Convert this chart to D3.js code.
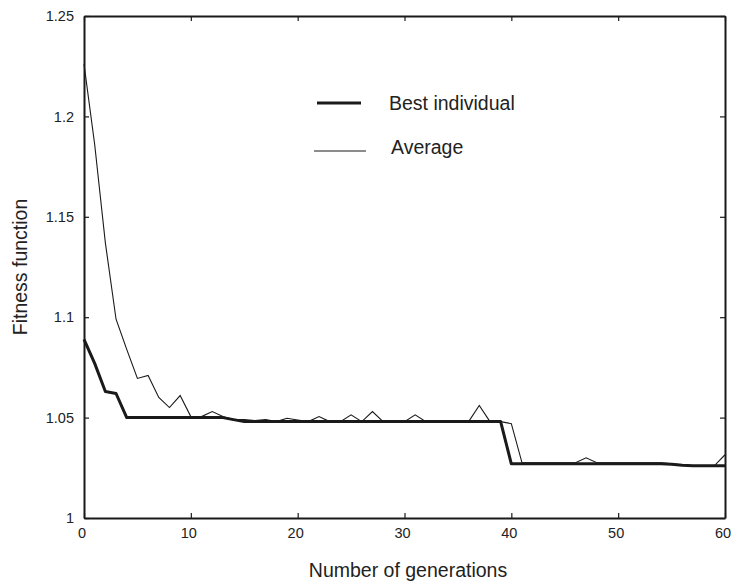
<!DOCTYPE html>
<html>
<head>
<meta charset="utf-8">
<script src="https://cdn.jsdelivr.net/npm/d3@7"></script>
<style>
  html, body { margin: 0; padding: 0; background: #fff; }
  svg { display: block; font-family: "Liberation Sans", Arial, Helvetica, sans-serif; }
</style>
</head>
<body>
<svg id="chart" width="733" height="586"></svg>
<script>
// ---- data ----
const generations = d3.range(0, 61);
const bestIndividual = [
  1.089, 1.077, 1.063, 1.062, 1.050, 1.050, 1.050, 1.050, 1.050, 1.050,
  1.050, 1.050, 1.050, 1.050, 1.049, 1.048, 1.048, 1.048, 1.048, 1.048,
  1.048, 1.048, 1.048, 1.048, 1.048, 1.048, 1.048, 1.048, 1.048, 1.048,
  1.048, 1.048, 1.048, 1.048, 1.048, 1.048, 1.048, 1.048, 1.048, 1.048,
  1.027, 1.027, 1.027, 1.027, 1.027, 1.027, 1.027, 1.027, 1.027, 1.027,
  1.027, 1.027, 1.027, 1.027, 1.027, 1.0268, 1.0263, 1.026, 1.026, 1.026,
  1.026
];
const average = [
  1.226, 1.186, 1.137, 1.099, 1.084, 1.0695, 1.071, 1.060, 1.055, 1.061,
  1.0505, 1.0505, 1.053, 1.0505, 1.049, 1.049, 1.0485, 1.049, 1.048, 1.0497,
  1.0488, 1.048, 1.0505, 1.048, 1.048, 1.0514, 1.048, 1.053, 1.048, 1.048,
  1.048, 1.0514, 1.048, 1.048, 1.048, 1.048, 1.048, 1.056, 1.048, 1.048,
  1.047, 1.0275, 1.0275, 1.0275, 1.0275, 1.0275, 1.0275, 1.030, 1.0275, 1.0275,
  1.0275, 1.0275, 1.0275, 1.0275, 1.0275, 1.027, 1.0265, 1.026, 1.026, 1.026,
  1.0315
];
const xTicks = [0, 10, 20, 30, 40, 50, 60];
const yTicks = [1, 1.05, 1.1, 1.15, 1.2, 1.25];
const yTickLabels = ["1", "1.05", "1.1", "1.15", "1.2", "1.25"];
const seriesNames = ["Best individual", "Average"];
const xTitle = "Number of generations";
const yTitle = "Fitness function";

// ---- layout ----
const svg = d3.select("#chart");
const L = 84, R = 725, T = 16, B = 518;
const ink = "#1a1a1a";

const x = d3.scaleLinear().domain([0, 60]).range([L, R]);
const y = d3.scaleLinear().domain([1, 1.25]).range([B, T]);

// axes
const gx = svg.append("g").attr("transform", `translate(0,${B})`)
  .call(d3.axisBottom(x).tickValues(xTicks).tickSizeInner(-5).tickSizeOuter(0).tickPadding(10)
    .tickFormat(d3.format("d")));
const gxTop = svg.append("g").attr("transform", `translate(0,${T})`)
  .call(d3.axisTop(x).tickValues(xTicks).tickSizeInner(-5).tickSizeOuter(0).tickFormat(""));
const gy = svg.append("g").attr("transform", `translate(${L},0)`)
  .call(d3.axisLeft(y).tickValues(yTicks).tickSizeInner(-5).tickSizeOuter(0).tickPadding(10)
    .tickFormat((d, i) => yTickLabels[i]));
const gyR = svg.append("g").attr("transform", `translate(${R},0)`)
  .call(d3.axisRight(y).tickValues(yTicks).tickSizeInner(-5).tickSizeOuter(0).tickFormat(""));

[gx, gxTop, gy, gyR].forEach(g => {
  g.select(".domain").attr("stroke", ink).attr("stroke-width", 2);
  g.selectAll(".tick line").attr("stroke", ink).attr("stroke-width", 1.2);
  g.selectAll(".tick text").attr("fill", "#222").attr("font-size", 14.5)
    .attr("font-family", "Liberation Sans, Arial, sans-serif");
});
gx.selectAll(".tick text").attr("dx", -2.5);

// lines
const line = d3.line().x((d, i) => x(generations[i])).y(d => y(d));
svg.append("path").datum(average)
  .attr("fill", "none").attr("stroke", ink).attr("stroke-width", 1.1)
  .attr("stroke-linejoin", "miter").attr("d", line);
svg.append("path").datum(bestIndividual)
  .attr("fill", "none").attr("stroke", ink).attr("stroke-width", 3)
  .attr("stroke-linejoin", "round").attr("d", line);

// legend
const lg = svg.append("g");
lg.append("line").attr("x1", 317).attr("x2", 361).attr("y1", 103).attr("y2", 103)
  .attr("stroke", ink).attr("stroke-width", 3);
lg.append("text").attr("x", 389).attr("y", 103).attr("dy", "0.35em")
  .attr("font-size", 19.5).attr("fill", "#222").text(seriesNames[0]);
lg.append("line").attr("x1", 314).attr("x2", 366).attr("y1", 151).attr("y2", 151)
  .attr("stroke", ink).attr("stroke-width", 1.1);
lg.append("text").attr("x", 391).attr("y", 147).attr("dy", "0.35em")
  .attr("font-size", 19.5).attr("fill", "#222").text(seriesNames[1]);

// axis titles
svg.append("text").attr("x", 408).attr("y", 577).attr("text-anchor", "middle")
  .attr("font-size", 19.5).attr("fill", "#222").text(xTitle);
svg.append("text").attr("transform", "translate(27,267) rotate(-90)")
  .attr("text-anchor", "middle").attr("font-size", 19.5).attr("fill", "#222").text(yTitle);
</script>
</body>
</html>
